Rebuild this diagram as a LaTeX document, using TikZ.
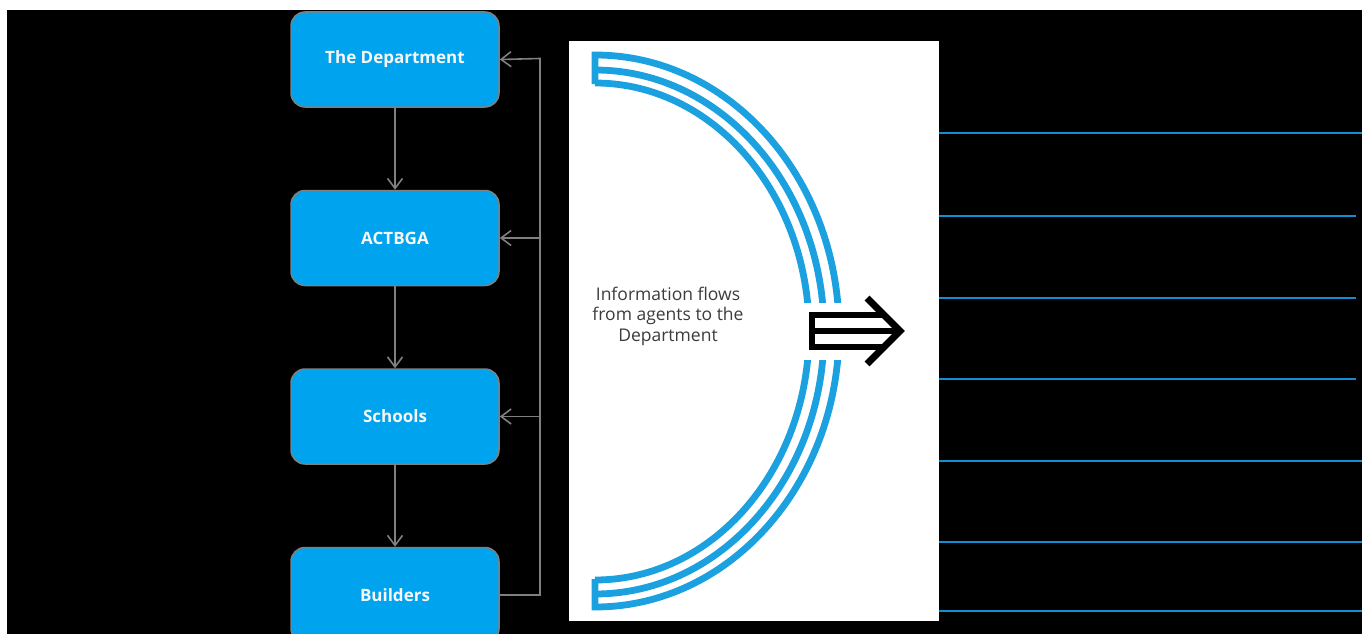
\documentclass[tikz,border=0pt]{standalone}
\usepackage{fontspec}
\setmainfont{Open Sans}
\usetikzlibrary{arrows.meta, positioning}
\definecolor{boxblue}{RGB}{0,163,238}
\definecolor{arcblue}{RGB}{27,160,224}
\definecolor{ruleblue}{RGB}{18,142,212}
\definecolor{wiregray}{RGB}{128,128,128}
\definecolor{textgray}{RGB}{60,60,60}

\begin{document}
\begin{tikzpicture}[
    x=1pt, y=-1pt,
    every node/.style={font=\fontsize{17.5}{20.5}\selectfont},
    agent/.style={draw=wiregray, line width=1.5pt, fill=boxblue, rounded corners=14pt,
                  minimum width=208pt, minimum height=95pt, text=white!94!gray,
                  font=\fontsize{17}{20}\selectfont\bfseries},
    flow/.style={-{Straight Barb[length=10pt, width=15pt, line width=1.6pt]},
                 wiregray, line width=1.6pt},
    band/.style={arcblue, line width=6.8pt},
    fat/.style={black, line width=6pt},
]
\useasboundingbox (0,0) rectangle (1362,634);
\fill[white] (0,0) rectangle (1362,634);
\fill[black] (7,10) rectangle (1362,634);

% chain of agents
\node[agent] (dept) at (395,59.5) {The Department};
\node[agent, below=82pt of dept] (act) {ACTBGA};
\node[agent, below=82pt of act]  (sch) {Schools};
\node[agent, below=82pt of sch]  (bld) {Builders};
\draw[flow] (dept) -- (act);
\draw[flow] (act) -- (sch);
\draw[flow] (sch) -- (bld);

% feedback wire on the right of the boxes
\coordinate (bus) at (540,58.5);
\draw[flow] (bld.east) -- (bld.east -| bus) -- (bus) -- (dept.east);
\draw[flow] (act.east -| bus) -- (act.east);
\draw[flow] (sch.east -| bus) -- (sch.east);

% white panel with the curved bands
\node[fill=white, minimum width=370pt, minimum height=580pt, inner sep=0pt] (panel) at (754,331) {};
\node[text=textgray, align=center] (info) at (668,316) {Information flows\\from agents to the\\Department};

\foreach \cut in {{(560,30) rectangle (950,302)}, {(560,360) rectangle (950,630)}} {
  \begin{scope}
    \clip \cut;
    \draw[band] (595,84) -- (595,55) arc[start angle=-90, end angle=90, x radius=244, y radius=276] -- (595,579);
    \draw[band] (595,70) arc[start angle=-90, end angle=90, x radius=229, y radius=262];
    \draw[band] (595,83) arc[start angle=-90, end angle=90, x radius=214, y radius=248.5];
  \end{scope}
}

% outlined arrow through the gap
\draw[fat] (885,315) -- (812,315) -- (812,347) -- (885,347);
\draw[fat] (812,331) -- (895,331);
\draw[fat, line width=7pt] (867,298) -- (900,331) -- (867,364);

% rules on the right
\foreach \yy/\xe in {133/1362, 215.5/1356, 297.5/1356, 379/1356, 461/1362, 542/1362, 610.5/1362}
  \draw[ruleblue, line width=2pt] (939,\yy) -- (\xe,\yy);
\end{tikzpicture}
\end{document}
